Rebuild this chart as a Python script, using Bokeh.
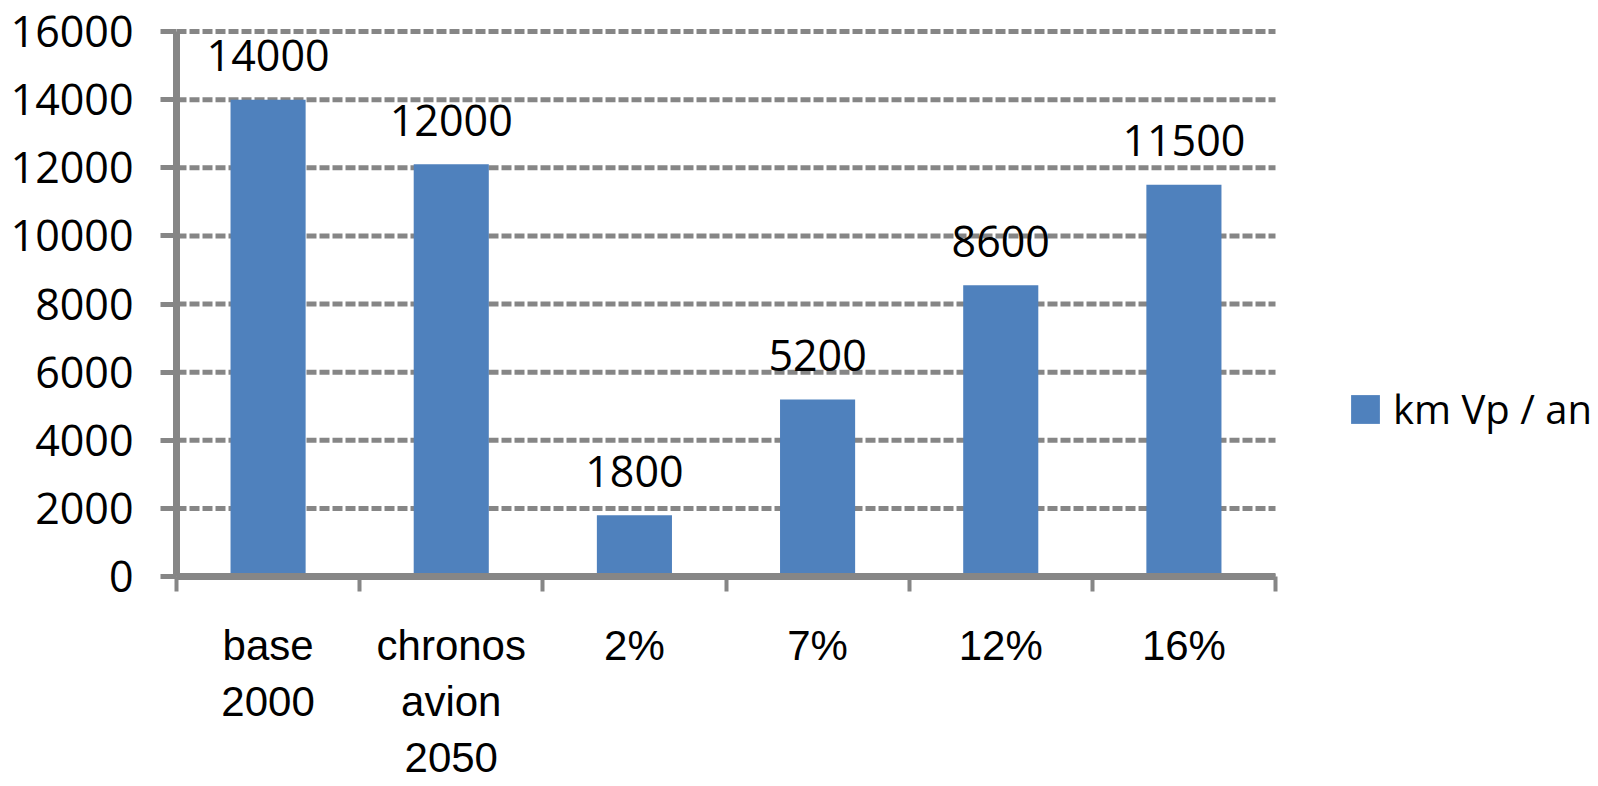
from bokeh.plotting import figure
from bokeh.models import Range1d, FixedTicker, Legend, LegendItem, ColumnDataSource
from bokeh.core.properties import value
from bokeh.embed import file_html
from bokeh.resources import INLINE

categories = ["base\n2000", "chronos\navion\n2050", "2%", "7%", "12%", "16%"]
values = [14000, 12100, 1800, 5200, 8550, 11500]
value_labels = ["14000", "12000", "1800", "5200", "8600", "11500"]
y_ticks = [0, 2000, 4000, 6000, 8000, 10000, 12000, 14000, 16000]
y_max = 16000
series_name = "km Vp / an"

FONT = "Open Sans"
XFONT = "Liberation Sans"
GRAY = "#868686"
BLUE = "#4F81BD"

W, H = 1598, 786
FRAME_L, FRAME_B = 176, 576
TOP_TICK_PX = 31     # pixel row of the top tick
FRAME_T = 25         # frame top a little above it so the top gridline is not clipped
AXIS_R = 1275        # right end of the category axis (px)
n = len(categories)
x_end = n * (W - FRAME_L) / (AXIS_R - FRAME_L)          # frame reaches page edge to hold the legend
y_end = y_max * (FRAME_B - FRAME_T) / (FRAME_B - TOP_TICK_PX)

centers = [i + 0.5 for i in range(n)]
src = ColumnDataSource(dict(x=centers, top=values, lab=value_labels))
gsrc = ColumnDataSource(dict(y=y_ticks, x0=[0] * len(y_ticks), x1=[n] * len(y_ticks)))

p = figure(width=W, height=H, x_range=Range1d(0, x_end), y_range=Range1d(0, y_end),
           output_backend="svg", toolbar_location=None,
           min_border_left=FRAME_L, min_border_right=0, min_border_top=FRAME_T,
           min_border_bottom=H - FRAME_B)
p.outline_line_color = None
p.background_fill_color = "white"
p.xgrid.visible = False
p.ygrid.visible = False

# dashed gridlines limited to the category area
p.segment(x0="x0", x1="x1", y0="y", y1="y", source=gsrc, line_color=GRAY, line_width=5,
          line_dash="10 3")

# y axis
ya = p.yaxis[0]
ya.bounds = (0, y_max)
ya.ticker = FixedTicker(ticks=y_ticks)
ya.axis_line_color = GRAY
ya.axis_line_width = 7
ya.major_tick_line_color = GRAY
ya.major_tick_line_width = 5
ya.major_tick_out = 16
ya.major_tick_in = 0
ya.minor_tick_line_color = None
ya.major_label_standoff = 27
ya.major_label_text_font = FONT
ya.major_label_text_font_size = "43px"
ya.major_label_text_color = "black"

# x axis
xa = p.xaxis[0]
xa.bounds = (0, n)
xa.ticker = FixedTicker(ticks=centers, minor_ticks=list(range(n + 1)))
xa.major_label_overrides = {c: lab for c, lab in zip(centers, categories)}
xa.axis_line_color = GRAY
xa.axis_line_width = 7
xa.major_tick_line_color = None
xa.major_tick_out = 0
xa.major_tick_in = 0
xa.minor_tick_line_color = GRAY
xa.minor_tick_line_width = 4
xa.minor_tick_out = 15
xa.minor_tick_in = 0
xa.major_label_standoff = 30
xa.major_label_text_font = XFONT
xa.major_label_text_font_size = "42px"
xa.major_label_text_color = "black"

bars = p.vbar(x="x", top="top", width=0.41, bottom=0, source=src, fill_color=BLUE, line_color=None)

p.text(x="x", y="top", text="lab", source=src, y_offset=-44, text_align="center",
       text_baseline="alphabetic", text_font=value(FONT), text_font_size="43px", text_color="black")

legend = Legend(items=[LegendItem(label=series_name, renderers=[bars])], location=(1171, 140),
                label_text_font=FONT, label_text_font_size="40px", label_text_color="black",
                glyph_width=36, glyph_height=36, label_standoff=10, padding=0, margin=0,
                border_line_color=None, background_fill_alpha=0)
p.add_layout(legend)

open("out.html", "w").write(file_html(p, INLINE))
